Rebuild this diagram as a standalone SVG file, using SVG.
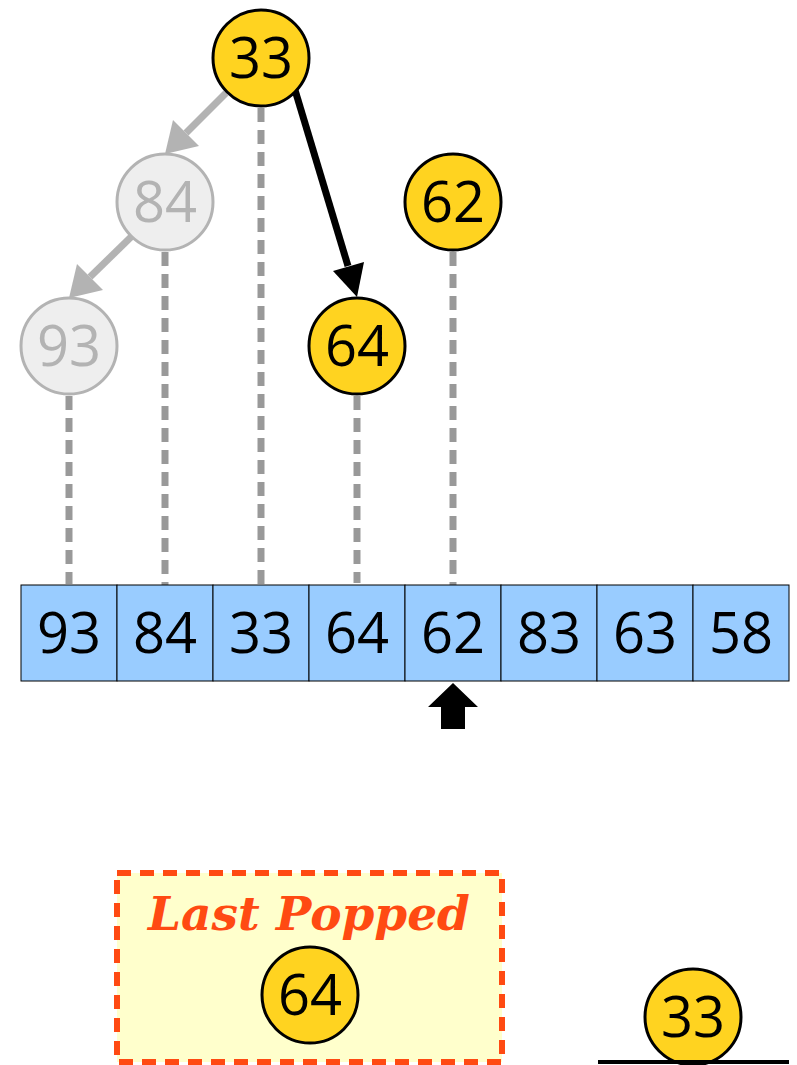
<svg xmlns="http://www.w3.org/2000/svg" width="797" height="1065" viewBox="0 0 797 1065">
<style>
.node circle{fill:#ffd320;stroke:#000;stroke-width:3}
.node text{font-family:"Open Sans","DejaVu Sans",sans-serif;font-size:56px;fill:#000;text-anchor:middle}
.ghost circle{fill:#eeeeee;stroke:#b3b3b3;stroke-width:3}
.ghost text{fill:#b3b3b3}
.cell rect{fill:#99ccff;stroke:#000;stroke-width:1}
.cell text{font-family:"Open Sans","DejaVu Sans",sans-serif;font-size:56px;fill:#000;text-anchor:middle}
.dash{stroke:#999;stroke-width:7;stroke-dasharray:14 8;fill:none}
</style>
<g id="connectors">
<line class="dash" x1="69" y1="396" x2="69" y2="584"/>
<line class="dash" x1="165" y1="252" x2="165" y2="585"/>
<line class="dash" x1="261" y1="108" x2="261" y2="584"/>
<line class="dash" x1="357" y1="396" x2="357" y2="583"/>
<line class="dash" x1="453" y1="252" x2="453" y2="587"/>
<path d="M226,93 L186,133" stroke="#b3b3b3" stroke-width="7" fill="none"/>
<polygon points="165,154 173,120 199,146" fill="#b3b3b3"/>
<path d="M131,237 L90,277" stroke="#b3b3b3" stroke-width="7" fill="none"/>
<polygon points="69,298 77,264 103,290" fill="#b3b3b3"/>
<path d="M295,90 L348,266" stroke="#000" stroke-width="7" fill="none"/>
<polygon points="357,297 333,271 364,262" fill="#000"/>
</g>
<g id="array">
<g class="cell" id="c0"><rect x="21" y="585" width="96" height="96"/><text x="69" y="653">93</text></g>
<g class="cell" id="c1"><rect x="117" y="585" width="96" height="96"/><text x="165" y="653">84</text></g>
<g class="cell" id="c2"><rect x="213" y="585" width="96" height="96"/><text x="261" y="653">33</text></g>
<g class="cell" id="c3"><rect x="309" y="585" width="96" height="96"/><text x="357" y="653">64</text></g>
<g class="cell" id="c4"><rect x="405" y="585" width="96" height="96"/><text x="453" y="653">62</text></g>
<g class="cell" id="c5"><rect x="501" y="585" width="96" height="96"/><text x="549" y="653">83</text></g>
<g class="cell" id="c6"><rect x="597" y="585" width="96" height="96"/><text x="645" y="653">63</text></g>
<g class="cell" id="c7"><rect x="693" y="585" width="96" height="96"/><text x="741" y="653">58</text></g>
</g>
<g id="pointer">
<polygon points="453,683 478,707 465,707 465,729 441,729 441,707 428,707" fill="#000"/>
</g>
<g class="node" id="n33"><circle cx="261" cy="58" r="48"/><text x="261" y="78">33</text></g>
<g class="node ghost" id="n84"><circle cx="165" cy="202" r="48"/><text x="165" y="222">84</text></g>
<g class="node ghost" id="n93"><circle cx="69" cy="346" r="48"/><text x="69" y="366">93</text></g>
<g class="node" id="n64"><circle cx="357" cy="346" r="48"/><text x="357" y="366">64</text></g>
<g class="node" id="n62"><circle cx="453" cy="202" r="48"/><text x="453" y="222">62</text></g>
<g id="lastPopped">
<rect x="117" y="873" width="385" height="189" fill="#ffffcc" stroke="#ff4a12" stroke-width="6" stroke-dasharray="14 9"/>
<text x="309" y="930" font-family="'DejaVu Serif',serif" font-weight="bold" font-style="italic" font-size="47" fill="#ff4a12" text-anchor="middle">Last Popped</text>
</g>
<g class="node" id="popped64"><circle cx="310" cy="995" r="48"/><text x="310" y="1015">64</text></g>
<g class="node" id="n33b"><circle cx="693" cy="1017" r="48"/><text x="693" y="1037">33</text></g>
<line id="baseline" x1="598" y1="1062" x2="789" y2="1062" stroke="#000" stroke-width="4"/>
</svg>
